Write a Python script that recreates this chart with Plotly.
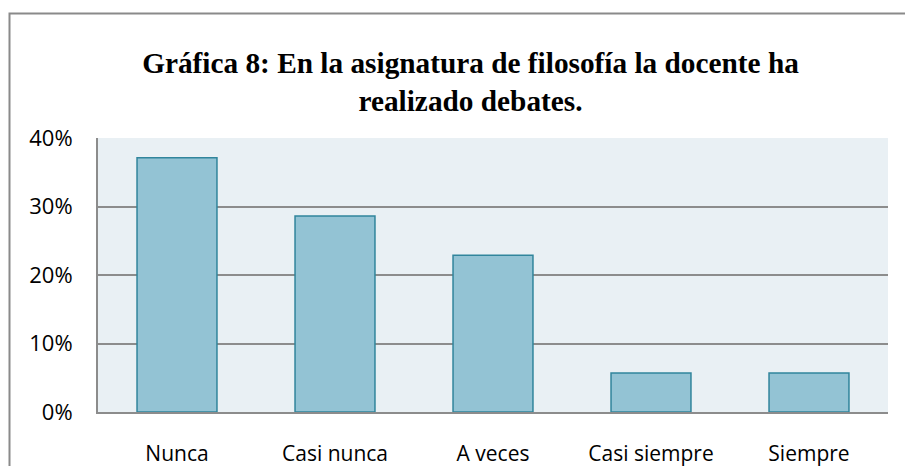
import plotly.graph_objects as go

categories = ["Nunca", "Casi nunca", "A veces", "Casi siempre", "Siempre"]
values = [0.371, 0.286, 0.229, 0.057, 0.057]
y_ticks = [0, 0.1, 0.2, 0.3, 0.4]
y_tick_labels = ["0%", "10%", "20%", "30%", "40%"]
title_text = "Gráfica 8: En la asignatura de filosofía la docente ha<br>realizado debates."

W, H = 905, 466
L, R, T, B = 98, 17, 138, 54
pw, ph = W - L - R, H - T - B

def px_x(x):
    return (x - L) / pw

def px_y(y):
    return (H - B - y) / ph

fig = go.Figure()
fig.add_trace(go.Bar(
    x=categories, y=values, width=0.506,
    marker=dict(color="#93C3D4", line=dict(color="#31859C", width=1.5)),
    hoverinfo="skip",
))

fig.update_layout(
    width=W, height=H,
    margin=dict(l=L, r=R, t=T, b=B, autoexpand=False),
    paper_bgcolor="white",
    plot_bgcolor="#E9F0F4",
    showlegend=False,
    title=dict(
        text=title_text,
        font=dict(family="Liberation Serif", size=29.3, color="black", weight="bold"),
        x=px_x(470.5), xanchor="center", xref="paper",
        y=1 - 73 / H, yanchor="top",
    ),
    xaxis=dict(
        showline=True, linecolor="#8C8C8C", linewidth=2,
        showgrid=False, ticks="", ticklabelstandoff=22,
        tickfont=dict(family="Open Sans", size=21, color="black"),
    ),
    yaxis=dict(
        range=[0, 0.4], tickvals=y_ticks, ticktext=y_tick_labels,
        showline=True, linecolor="#8C8C8C", linewidth=2,
        showgrid=True, gridcolor="#8C8C8C", gridwidth=1.5,
        zeroline=False, ticks="", ticklabelstandoff=19,
        tickfont=dict(family="Open Sans", size=22, color="black"),
    ),
    shapes=[dict(
        type="rect", xref="paper", yref="paper",
        x0=px_x(9.5), x1=px_x(915), y0=px_y(480), y1=px_y(13.5),
        line=dict(color="#8A8A8A", width=2), layer="below",
    )],
)

fig.write_html("out.html", config={"displayModeBar": False},
               post_script="document.body.style.margin='0';")
